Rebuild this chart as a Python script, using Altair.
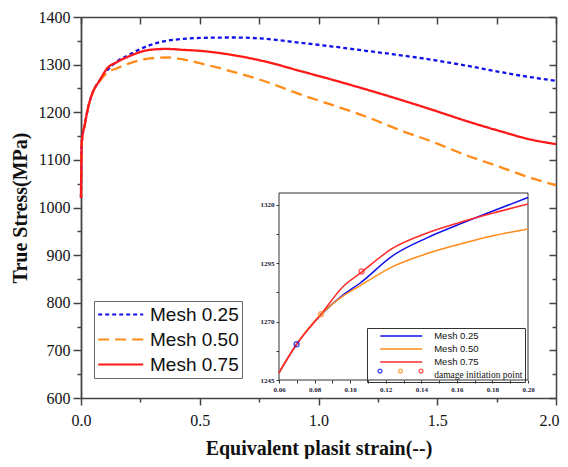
import altair as alt
import pandas as pd

# ---------------- data ----------------
SERIES = ["Mesh 0.25", "Mesh 0.50", "Mesh 0.75"]
MAIN_COLORS = ["#1010e8", "#ff8c1a", "#ff1a1a"]
INSET_COLORS = ["#1010e8", "#ff8c1a", "#ff2a2a"]
DASHES = [[4, 3], [11, 6], [1, 0]]

STRAIN = [0, 0.003, 0.017, 0.031, 0.045, 0.08, 0.11, 0.15, 0.2, 0.29, 0.36, 0.43,
          0.5, 0.64, 0.78, 0.92, 1.06, 1.2, 1.34, 1.48, 1.62, 1.76, 1.9, 2.0]
STRESS_025 = [1020, 1135, 1177, 1212, 1236, 1268, 1288, 1306, 1320, 1341, 1350, 1354,
              1356, 1357, 1354, 1346, 1338, 1329, 1320, 1310, 1298, 1285, 1273, 1266]
STRESS_050 = [1020, 1135, 1177, 1212, 1236, 1266, 1283, 1292, 1302, 1313, 1315, 1311,
              1303, 1285, 1264, 1238, 1215, 1191, 1163, 1138, 1110, 1086, 1061, 1047]
STRESS_075 = [1020, 1135, 1177, 1212, 1236, 1268, 1292, 1305, 1317, 1331, 1333, 1331,
              1329, 1320, 1306, 1287, 1268, 1248, 1227, 1205, 1182, 1161, 1142, 1133]

INSET_STRAIN = [0.06, 0.0699, 0.0836, 0.0961, 0.1055, 0.1242, 0.1429, 0.1616, 0.1803, 0.20]
INSET_025 = [1248.1, 1260.3, 1272.9, 1281.4, 1286.4, 1298.3, 1305.7, 1311.7, 1317.3, 1323.1]
INSET_050 = [1248.1, 1260.3, 1273.1, 1281.0, 1285.3, 1293.6, 1299.0, 1303.1, 1306.7, 1309.6]
INSET_075 = [1248.1, 1260.3, 1273.1, 1285.0, 1290.6, 1301.5, 1307.8, 1312.4, 1316.4, 1320.3]

DAMAGE_STRAIN = [0.0699, 0.0836, 0.1064]
DAMAGE_STRESS = [1260.3, 1273.1, 1291.4]
DAMAGE_LABEL = "damage initiation point"

MAIN_X_DOMAIN = [0, 2]
MAIN_Y_DOMAIN = [600, 1400]
MAIN_X_TICKS = [0, 0.25, 0.5, 0.75, 1.0, 1.25, 1.5, 1.75, 2.0]
MAIN_Y_TICKS = list(range(600, 1401, 50))
INSET_X_DOMAIN = [0.06, 0.20]
INSET_Y_DOMAIN = [1245, 1325]
INSET_X_TICKS = [0.06, 0.07, 0.08, 0.09, 0.10, 0.11, 0.12, 0.13, 0.14, 0.15, 0.16,
                 0.17, 0.18, 0.19, 0.20]
INSET_Y_TICKS = [1245, 1257.5, 1270, 1282.5, 1295, 1307.5, 1320]

main_df = pd.DataFrame({
    "strain": STRAIN * 3,
    "stress": STRESS_025 + STRESS_050 + STRESS_075,
    "series": [s for s in SERIES for _ in STRAIN],
})
inset_df = pd.DataFrame({
    "x": INSET_STRAIN * 3,
    "y": INSET_025 + INSET_050 + INSET_075,
    "series": [s for s in SERIES for _ in INSET_STRAIN],
})
dmg_df = pd.DataFrame({"x": DAMAGE_STRAIN, "y": DAMAGE_STRESS, "series": SERIES})
box_df = pd.DataFrame({"x0": [INSET_X_DOMAIN[0]], "x1": [INSET_X_DOMAIN[1]],
                       "y0": [INSET_Y_DOMAIN[0]], "y1": [INSET_Y_DOMAIN[1]]})

SERIF = "Liberation Serif"
SANS = "Liberation Sans"
AX = "#444444"

# ---------------- scales ----------------
mx = alt.Scale(domain=MAIN_X_DOMAIN, nice=False, zero=False)
my = alt.Scale(domain=MAIN_Y_DOMAIN, nice=False, zero=False)
ix = alt.Scale(domain=INSET_X_DOMAIN, range=[198, 447], nice=False, zero=False)
iy = alt.Scale(domain=INSET_Y_DOMAIN, range=[363, 176], nice=False, zero=False)

# ---------------- axes ----------------
x_bottom = alt.Axis(
    values=MAIN_X_TICKS,
    labelExpr="round(datum.value*4) % 2 == 0 ? format(datum.value, '.1f') : ''",
    tickSize={"condition": {"test": "round(datum.value*4) % 2 == 0", "value": 7}, "value": 4},
    labelOffset={"condition": {"test": "datum.value >= 2", "value": -7}, "value": 0},
    tickColor=AX, tickWidth=1.5, domainColor=AX, domainWidth=1.5, grid=False,
    labelFont=SERIF, labelFontSize=16, labelColor="#111", labelPadding=7,
    labelFlush=False, labelOverlap=False,
    titleFont=SERIF, titleFontSize=20, titleFontWeight="bold", titleColor="#111",
    titlePadding=10,
)
y_left = alt.Axis(
    values=MAIN_Y_TICKS,
    labelExpr="round(datum.value/50) % 2 == 0 ? format(datum.value, 'd') : ''",
    tickSize={"condition": {"test": "round(datum.value/50) % 2 == 0", "value": 8}, "value": 4},
    tickColor=AX, tickWidth=1.5, domainColor=AX, domainWidth=1.8, grid=False,
    labelFont=SERIF, labelFontSize=16, labelColor="#111", labelPadding=3,
    labelFlush=False, labelOverlap=False,
    titleFont=SERIF, titleFontSize=20, titleFontWeight="bold", titleColor="#111",
    titlePadding=8,
)
x_top = alt.Axis(orient="top", values=MAIN_X_TICKS, labels=False, title=None, grid=False,
                 tickSize={"expr": "-7"}, tickColor=AX, tickWidth=1.5,
                 domainColor=AX, domainWidth=1.5)
y_right = alt.Axis(orient="right", values=MAIN_Y_TICKS, labels=False, title=None, grid=False,
                   tickSize={"expr": "round(datum.value/50) % 2 == 0 ? -7 : -4"},
                   tickColor=AX, tickWidth=1.5, domainColor=AX, domainWidth=1.5)

ix_axis = alt.Axis(orient="bottom", offset=-18, values=INSET_X_TICKS,
                   labelExpr="round(datum.value*100) % 2 == 0 ? format(datum.value, '.2f') : ''",
                   tickSize=3, tickColor="#333", domain=False, grid=False, title=None,
                   labelFont=SERIF, labelFontSize=7, labelFontWeight="bold", labelColor="#1a1a3a",
                   labelPadding=2, labelFlush=False, labelOverlap=False)
iy_axis = alt.Axis(orient="left", offset=-198, values=INSET_Y_TICKS,
                   labelExpr="round((datum.value-1245)/12.5) % 2 == 0 ? format(datum.value, 'd') : ''",
                   tickSize=3, tickColor="#333", domain=False, grid=False, title=None,
                   labelFont=SERIF, labelFontSize=7, labelFontWeight="bold", labelColor="#1a1a3a",
                   labelPadding=2, labelFlush=False, labelOverlap=False)

# ---------------- legends ----------------
LINE_PATH = "M-2.5,0H2.5"
main_legend = alt.Legend(
    orient="none", legendX=13, legendY=284, title=None, direction="vertical",
    symbolType=LINE_PATH, symbolSize=324, symbolStrokeWidth=2.2, symbolOffset=13.2,
    labelFont=SANS, labelFontSize=19, labelColor="#111", labelOffset=18.8,
    rowPadding=4, padding=3, strokeColor="#666", fillColor="white", labelLimit=200,
)
inset_legend = alt.Legend(
    orient="none", legendX=286, legendY=311, title=None, direction="vertical",
    symbolType="M-4.42,0H4.42", symbolSize=90, symbolStrokeWidth=1.6, symbolOffset=26.2,
    labelFont={"expr": "datum.label == 'damage initiation point' ? 'Liberation Serif' : 'Liberation Sans'"},
    labelFontSize=9.5, labelColor="#111", labelOffset=27, rowPadding=2,
    padding=2, strokeColor="#333", labelLimit=200,
)
pts_legend = alt.Legend(
    orient="none", legendX=296, legendY=351, title=None, direction="horizontal",
    symbolType="circle", symbolSize=14, symbolStrokeWidth=1.5,
    labelExpr="''", labelFontSize=1, labelOffset=0, columnPadding=10.5, padding=0,
)

# ---------------- layers ----------------
main = alt.Chart(main_df).mark_line(strokeWidth=2.3, interpolate="monotone").encode(
    x=alt.X("strain:Q", scale=mx, axis=x_bottom, title="Equivalent plasit strain(--)"),
    y=alt.Y("stress:Q", scale=my, axis=y_left, title="True Stress(MPa)"),
    color=alt.Color("series:N", scale=alt.Scale(domain=SERIES, range=MAIN_COLORS), legend=main_legend),
    strokeDash=alt.StrokeDash("series:N", scale=alt.Scale(domain=SERIES, range=DASHES), legend=main_legend),
)
frame = alt.Chart(main_df).mark_line(strokeOpacity=0).encode(
    x=alt.X("strain:Q", scale=mx, axis=x_top),
    y=alt.Y("stress:Q", scale=my, axis=y_right),
)
box = alt.Chart(box_df).mark_rect(fill="white", stroke="#333", strokeWidth=1).encode(
    x=alt.X("x0:Q", scale=ix, axis=None), x2="x1:Q",
    y=alt.Y("y0:Q", scale=iy, axis=None), y2="y1:Q",
)
inset_lines = alt.Chart(inset_df).mark_line(strokeWidth=1.5, interpolate="monotone").encode(
    x=alt.X("x:Q", scale=ix, axis=ix_axis),
    y=alt.Y("y:Q", scale=iy, axis=iy_axis),
    color=alt.Color("series:N",
                    scale=alt.Scale(domain=SERIES + [DAMAGE_LABEL], range=INSET_COLORS + ["transparent"]),
                    legend=inset_legend),
)
pts = alt.Chart(dmg_df).mark_point(shape="circle", size=24, strokeWidth=1.5, filled=False).encode(
    x=alt.X("x:Q", scale=ix, axis=None),
    y=alt.Y("y:Q", scale=iy, axis=None),
    stroke=alt.Stroke("series:N", scale=alt.Scale(domain=SERIES, range=INSET_COLORS), legend=pts_legend),
)

chart = alt.layer(main, frame, box, inset_lines, pts).resolve_scale(
    x="independent", y="independent", color="independent",
    stroke="independent", strokeDash="independent",
).properties(
    width=475, height=381,
    autosize=alt.AutoSizeParams(type="none"),
    padding={"left": 73, "top": 9, "right": 4, "bottom": 61},
).configure_view(stroke=None).configure(background="white")

chart.save("out.html", embed_options={"renderer": "svg", "actions": False})
